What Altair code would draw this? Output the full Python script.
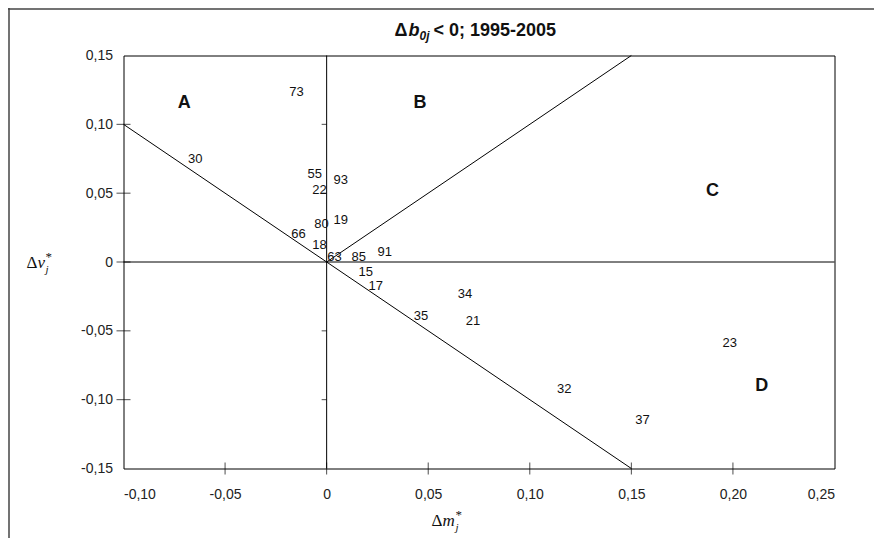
import altair as alt
import pandas as pd

# ---- data ----
labels = ["73", "30", "55", "93", "22", "80", "19", "66", "18", "63",
          "85", "91", "15", "17", "35", "34", "21", "32", "37", "23"]
dm = [-0.0148, -0.0647, -0.0059, 0.0069, -0.0035, -0.0025, 0.0069, -0.0138, -0.0035, 0.0039,
      0.0158, 0.0286, 0.0192, 0.0242, 0.0464, 0.0681, 0.0721, 0.117, 0.1555, 0.1984]
dv = [0.1235, 0.0748, 0.0639, 0.0595, 0.0523, 0.0276, 0.0305, 0.0203, 0.0123, 0.0036,
      0.0036, 0.0073, -0.0073, -0.0174, -0.0392, -0.0232, -0.0428, -0.0922, -0.1147, -0.0588]

regions = ["A", "B", "C", "D"]
region_x = [-0.0701, 0.0459, 0.190, 0.2142]
region_y = [0.1155, 0.1155, 0.0516, -0.090]

# reference lines (segment endpoints)
seg_id = ["d1", "d1", "d2", "d2", "h", "h", "v", "v"]
seg_order = [0, 1, 0, 1, 0, 1, 0, 1]
seg_x = [-0.10, 0.15, 0.0, 0.15, -0.10, 0.25, 0.0, 0.0]
seg_y = [0.10, -0.15, 0.0, 0.15, 0.0, 0.0, -0.15, 0.15]

x_domain = [-0.10, 0.25]
y_domain = [-0.15, 0.15]
x_ticks = [-0.10, -0.05, 0.0, 0.05, 0.10, 0.15, 0.20, 0.25]
y_ticks = [-0.15, -0.10, -0.05, 0.0, 0.05, 0.10, 0.15]
x_inner_ticks = [-0.05, 0.0, 0.05, 0.10, 0.15, 0.20]
y_inner_ticks = [-0.10, -0.05, 0.0, 0.05, 0.10]
zero_line_ticks = [-0.10, -0.05, 0.05, 0.10]

title_main = "< 0; 1995-2005"

# ---- tables ----
pts = pd.DataFrame({"label": labels, "x": dm, "y": dv})
reg = pd.DataFrame({"label": regions, "x": region_x, "y": region_y})
segs = pd.DataFrame({"seg": seg_id, "o": seg_order, "x": seg_x, "y": seg_y})
xt = pd.DataFrame({"x": x_inner_ticks, "y": [y_domain[0]] * len(x_inner_ticks)})
yt = pd.DataFrame({"y": y_inner_ticks, "x": [x_domain[0]] * len(y_inner_ticks)})
zt = pd.DataFrame({"y": zero_line_ticks, "x": [0.0] * len(zero_line_ticks)})

W, H = 711, 413
SANS = "Liberation Sans"
SERIF = "Liberation Serif"

lab_expr = ("datum.value == 0 ? '0' : "
            "replace(replace(format(datum.value, '.2f'), '.', ','), '\u2212', '-')")

def X():
    return alt.X("x:Q", scale=alt.Scale(domain=x_domain, nice=False, zero=False),
                 axis=alt.Axis(values=x_ticks, labelExpr=lab_expr, ticks=False, domain=False,
                               grid=False, title=None, labelFontSize=14, labelFont=SANS,
                               labelColor="#222", labelPadding=19))

def Y():
    return alt.Y("y:Q", scale=alt.Scale(domain=y_domain, nice=False, zero=False),
                 axis=alt.Axis(values=y_ticks, labelExpr=lab_expr, ticks=False, domain=False,
                               grid=False, title=None, labelFontSize=14, labelFont=SANS,
                               labelColor="#222", labelPadding=11))

lines = alt.Chart(segs).mark_line(color="black", strokeWidth=1).encode(
    x=X(), y=Y(), detail="seg:N", order="o:Q")

xticks = alt.Chart(xt).mark_tick(orient="vertical", color="black", size=12, thickness=1).encode(x=X(), y=Y())
yticks = alt.Chart(yt).mark_tick(orient="horizontal", color="black", size=14, thickness=1).encode(x=X(), y=Y())
zticks = alt.Chart(zt).mark_tick(orient="horizontal", color="black", size=5, thickness=1, xOffset=-2.5).encode(x=X(), y=Y())

pt_text = alt.Chart(pts).mark_text(font=SANS, fontSize=13, color="#111").encode(
    x=X(), y=Y(), text="label:N")

reg_text = alt.Chart(reg).mark_text(font=SANS, fontSize=18, fontWeight="bold", color="#111").encode(
    x=X(), y=Y(), text="label:N")

def txt(s, x, y, font=SANS, size=17, weight="normal", style="normal", align="left", color="#111"):
    return alt.Chart(pd.DataFrame({"t": [s]})).mark_text(
        font=font, fontSize=size, fontWeight=weight, fontStyle=style, align=align,
        baseline="alphabetic", color=color).encode(
        x=alt.value(x), y=alt.value(y), text="t:N")

title_layers = [
    txt("\u0394", 284, -20, size=18, weight="bold", align="right"),
    txt("b", 285, -20, size=18, weight="bold", style="italic"),
    txt("0j", 296, -16, size=12, weight="bold", style="italic"),
    txt(title_main, 310, -20, size=18, weight="bold"),
]

ytitle = [
    txt("\u0394", -97, 212, font=SERIF, size=17),
    txt("v", -86, 212, font=SERIF, size=17, style="italic"),
    txt("*", -78, 205, font=SERIF, size=13),
    txt("j", -78, 217, font=SERIF, size=11, style="italic"),
]
xtitle = [
    txt("\u0394", 308, 470, font=SERIF, size=17),
    txt("m", 319, 470, font=SERIF, size=17, style="italic"),
    txt("*", 332, 463, font=SERIF, size=13),
    txt("j", 332, 475, font=SERIF, size=11, style="italic"),
]

frame_top = alt.Chart(pd.DataFrame({"a": [0]})).mark_rule(color="#444", strokeWidth=1.5).encode(
    x=alt.value(-116), x2=alt.value(W + 80), y=alt.value(-46.5))
frame_left = alt.Chart(pd.DataFrame({"a": [0]})).mark_rule(color="#444", strokeWidth=1.5).encode(
    x=alt.value(-114.5), y=alt.value(-48), y2=alt.value(H + 80))

chart = alt.layer(
    lines, xticks, yticks, zticks, pt_text, reg_text,
    *title_layers, *ytitle, *xtitle, frame_top, frame_left
).properties(
    width=W, height=H,
    background="white",
    autosize=alt.AutoSizeParams(type="none"),
    padding={"left": 115.5, "top": 47.5, "right": 39.5, "bottom": 69.5},
).configure_view(stroke="black", strokeWidth=1)

chart.save("out.html", embed_options={"renderer": "svg", "actions": False})
